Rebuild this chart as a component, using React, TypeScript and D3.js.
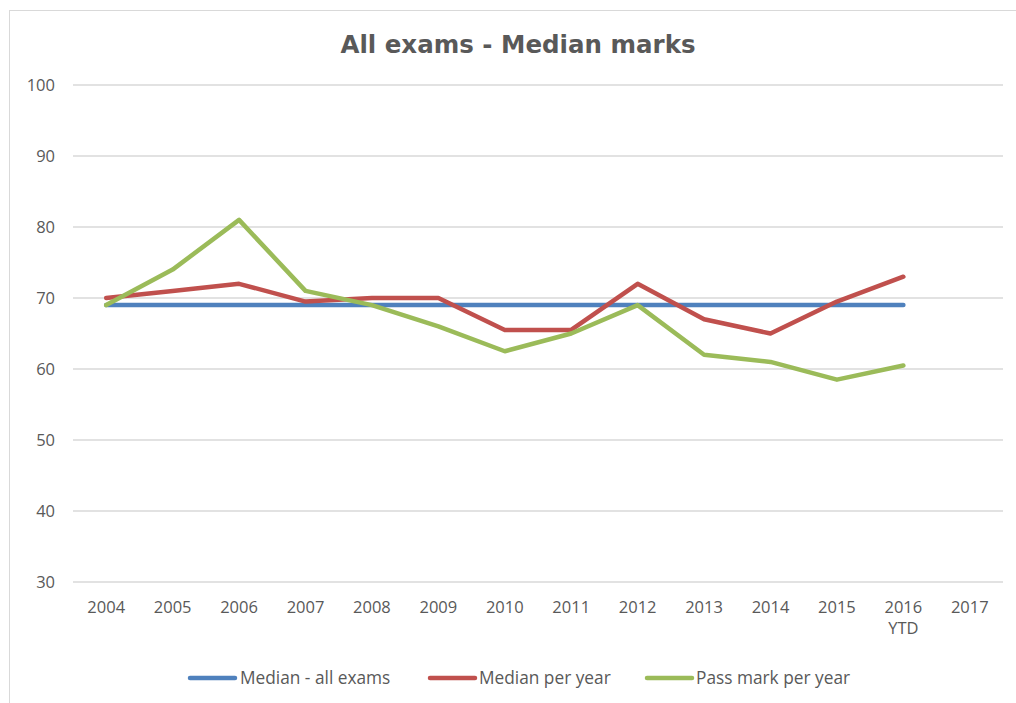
import React from "react";
import * as d3 from "d3";

const years = ["2004","2005","2006","2007","2008","2009","2010","2011","2012","2013","2014","2015","2016","2017"];
const yearLabels = [["2004"],["2005"],["2006"],["2007"],["2008"],["2009"],["2010"],["2011"],["2012"],["2013"],["2014"],["2015"],["2016","YTD"],["2017"]];
const medianAll = [69,69,69,69,69,69,69,69,69,69,69,69,69];
const medianPerYear = [70,71,72,69.5,70,70,65.5,65.5,72,67,65,69.5,73];
const passMark = [69,74,81,71,69,66,62.5,65,69,62,61,58.5,60.5];
const yTicks = [30,40,50,60,70,80,90,100];

const seriesList = [
  { name: "Median - all exams", values: medianAll, color: "#4f81bd" },
  { name: "Median per year", values: medianPerYear, color: "#c0504d" },
  { name: "Pass mark per year", values: passMark, color: "#9bbb59" },
];

const W = 1016, H = 703;
const plot = { left: 73, right: 1003, top: 85, bottom: 582 };
const font = "'Open Sans', Lato, sans-serif";

export default function App() {
  const x = d3.scaleBand<string>().domain(years).range([plot.left, plot.right]);
  const y = d3.scaleLinear().domain([30, 100]).range([plot.bottom, plot.top]);
  const cx = (i: number) => (x(years[i]) as number) + x.bandwidth() / 2;
  const line = d3.line<number>().x((_, i) => cx(i)).y(d => y(d));
  const legendItems = [
    { lx: 190, tx: 240 },
    { lx: 430, tx: 479 },
    { lx: 647, tx: 696 },
  ];
  return (
    <svg width={W} height={H} style={{ position: "absolute", left: 0, top: 0, background: "#fff" }}>
      <rect x={9.5} y={10.5} width={W} height={H} fill="#fff" stroke="#d9d9d9" strokeWidth={1} />
      <text x={518} y={53} textAnchor="middle" fontFamily="'DejaVu Sans', Verdana, sans-serif" fontWeight="bold" fontSize={24.5} fill="#595959">All exams - Median marks</text>
      {yTicks.map(t => (
        <g key={t}>
          <line x1={plot.left} x2={plot.right} y1={y(t)} y2={y(t)} stroke="#d9d9d9" strokeWidth={1.3} />
          <text x={55} y={y(t)} dy="0.36em" textAnchor="end" fontFamily={font} fontSize={16.5} fill="#595959">{t}</text>
        </g>
      ))}
      {yearLabels.map((lab, i) => (
        <text key={years[i]} x={cx(i)} y={613} textAnchor="middle" fontFamily={font} fontSize={16.5} fill="#595959">
          {lab.map((s, j) => (
            <tspan key={j} x={cx(i)} dy={j === 0 ? 0 : 21}>{s}</tspan>
          ))}
        </text>
      ))}
      {seriesList.map(s => (
        <path key={s.name} d={line(s.values) || ""} fill="none" stroke={s.color} strokeWidth={4.5} strokeLinejoin="round" strokeLinecap="round" />
      ))}
      {seriesList.map((s, i) => (
        <g key={s.name}>
          <line x1={legendItems[i].lx} x2={legendItems[i].lx + 45} y1={678} y2={678} stroke={s.color} strokeWidth={4.5} strokeLinecap="round" />
          <text x={legendItems[i].tx} y={678} dy="0.36em" fontFamily={font} fontSize={17.3} fill="#595959">{s.name}</text>
        </g>
      ))}
    </svg>
  );
}
